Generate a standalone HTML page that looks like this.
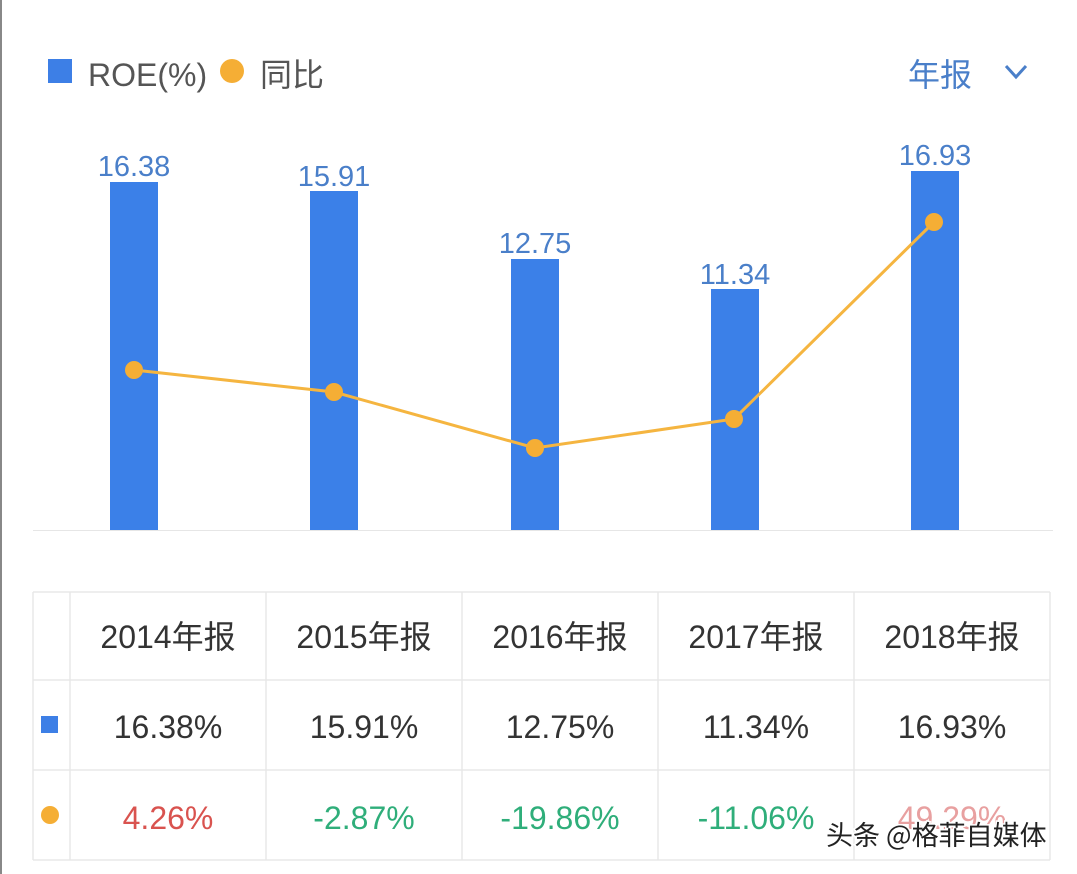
<!DOCTYPE html><html><head><meta charset="utf-8"><style>
body{margin:0;width:1077px;height:874px;background:#fff;overflow:hidden;position:relative;font-family:"Liberation Sans","Noto Sans CJK SC",sans-serif}
.a{position:absolute}
</style></head><body>
<div class="a" style="left:0;top:0;width:2px;height:874px;background:#888"></div>
<svg class="a" style="left:0;top:0" width="1077" height="874">
<rect x="48" y="59" width="24" height="24" fill="#3d7fe6"/>
<text x="88" y="86" font-size="32" fill="#555">ROE(%)</text>
<circle cx="232" cy="71" r="12" fill="#f5ae35"/>
<text x="260" y="86" font-size="32" fill="#555" font-family="Noto Sans CJK SC">同比</text>
<text x="908" y="86" font-size="32" fill="#4a7fc9" font-family="Noto Sans CJK SC">年报</text>
<polyline points="1006,66 1016,77 1026,66" fill="none" stroke="#4a7fc9" stroke-width="3"/>
<line x1="33" y1="530.5" x2="1053" y2="530.5" stroke="#e6e6e6"/>
<g fill="#3b80e8">
<rect x="110" y="182" width="48" height="348"/><rect x="310" y="191" width="48" height="339"/>
<rect x="511" y="259" width="48" height="271"/><rect x="711" y="289" width="48" height="241"/>
<rect x="911" y="171" width="48" height="359"/></g>
<g font-size="29" fill="#4a7fc9" text-anchor="middle">
<text x="134" y="176">16.38</text><text x="334" y="186">15.91</text><text x="535" y="253">12.75</text><text x="735" y="284">11.34</text><text x="935" y="165">16.93</text></g>
<polyline points="134,370 334,392 535,448 734,419 934,222" fill="none" stroke="#f5b540" stroke-width="3"/>
<g fill="#f5ae35"><circle cx="134" cy="370" r="9"/><circle cx="334" cy="392" r="9"/><circle cx="535" cy="448" r="9"/><circle cx="734" cy="419" r="9"/><circle cx="934" cy="222" r="9"/></g>
<g stroke="#e8e8e8" stroke-width="1.5">
<line x1="33" y1="592" x2="1050" y2="592"/><line x1="33" y1="680" x2="1050" y2="680"/><line x1="33" y1="770" x2="1050" y2="770"/><line x1="33" y1="860" x2="1050" y2="860"/>
<line x1="33" y1="592" x2="33" y2="860"/><line x1="70" y1="592" x2="70" y2="860"/><line x1="266" y1="592" x2="266" y2="860"/><line x1="462" y1="592" x2="462" y2="860"/><line x1="658" y1="592" x2="658" y2="860"/><line x1="854" y1="592" x2="854" y2="860"/><line x1="1050" y1="592" x2="1050" y2="860"/></g>
<g font-size="32" fill="#333" text-anchor="middle" font-family="Liberation Sans,Noto Sans CJK SC">
<text x="168" y="648">2014年报</text><text x="364" y="648">2015年报</text><text x="560" y="648">2016年报</text><text x="756" y="648">2017年报</text><text x="952" y="648">2018年报</text>
<text x="168" y="738">16.38%</text><text x="364" y="738">15.91%</text><text x="560" y="738">12.75%</text><text x="756" y="738">11.34%</text><text x="952" y="738">16.93%</text>
<text x="168" y="829" fill="#d9534f">4.26%</text><text x="364" y="829" fill="#2fae7a">-2.87%</text><text x="560" y="829" fill="#2fae7a">-19.86%</text><text x="756" y="829" fill="#2fae7a">-11.06%</text><text x="952" y="829" fill="#e8a0a0">49.29%</text></g>
<rect x="41" y="716" width="17" height="17" fill="#3d7fe6"/>
<circle cx="50" cy="815" r="9" fill="#f5ae35"/>
<text x="826" y="845" font-size="27" fill="#222" stroke="#fff" stroke-width="3" paint-order="stroke" font-family="Noto Sans CJK SC">头条 @格菲自媒体</text>
</svg>
</body></html>
